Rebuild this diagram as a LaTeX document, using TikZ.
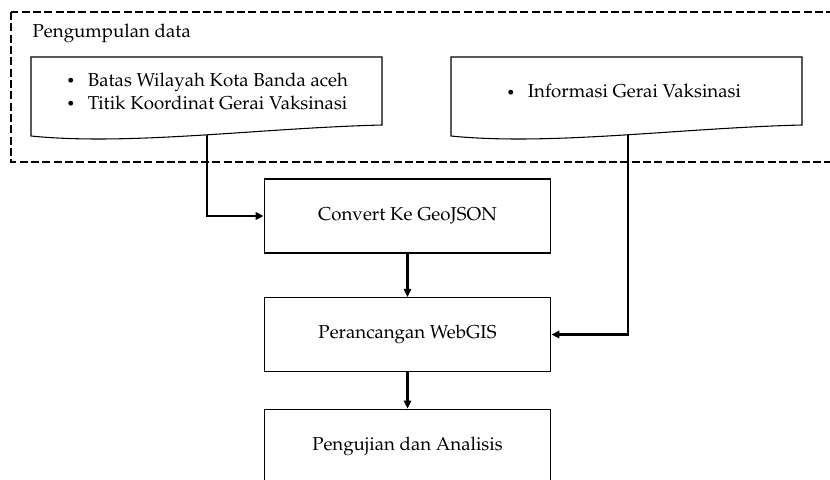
\documentclass[tikz,border=0pt]{standalone}
\usepackage[T1]{fontenc}
\usepackage{mathpazo}
\usepackage{graphicx}
\usetikzlibrary{arrows.meta}

\newcommand{\smbullet}{\raisebox{0.3pt}{\scalebox{0.75}{\textbullet}}\hspace{9.5pt}}

\tikzset{
	stepbox/.style={draw, line width=0.8pt, minimum width=215pt, minimum height=55.5pt, font=\fontsize{14}{17}\selectfont},
	docshape/.style={draw, line width=0.8pt},
	arr/.style={line width=1.6pt, -{Triangle[length=6pt, width=5.5pt]}}
}

\begin{document}
\begin{tikzpicture}[x=0.75pt, y=-0.75pt]
		\useasboundingbox (0, 0) rectangle (830, 479);
		\clip (0, 0) rectangle (830, 479);

		% Dashed group
		\draw[dashed, line width=1.5pt, dash pattern=on 6pt off 2.5pt] (11, 12) rectangle (845, 162);
		\node[anchor=west, font=\fontsize{14}{17}\selectfont] (judul) at (28, 33) {Pengumpulan data};

		% Document shapes
		\draw[docshape] (31, 136) -- (31, 57) -- (382, 57) -- (382, 125)
			.. controls (260, 128) and (130, 146) .. (31, 136) -- cycle;
		\draw[docshape] (451, 136) -- (451, 57) -- (802, 57) -- (802, 125)
			.. controls (680, 128) and (550, 146) .. (451, 136) -- cycle;
		\coordinate (batasout) at (207, 135);
		\coordinate (infoout) at (628, 135);

		\node[anchor=west, align=left, font=\fontsize{14}{17.3}\selectfont] (batas) at (62, 91)
			{\smbullet Batas Wilayah Kota Banda aceh\\ \smbullet Titik Koordinat Gerai Vaksinasi};
		\node[anchor=west, font=\fontsize{14}{17}\selectfont] (info) at (502, 91)
			{\smbullet Informasi Gerai Vaksinasi};

		% Process boxes
		\node[stepbox] (convert) at (407.5, 216) {Convert Ke GeoJSON};
		\node[stepbox] (webgis) at (407.5, 334.5) {Perancangan WebGIS};
		\node[stepbox, minimum height=56pt] (uji) at (407.5, 446.5) {Pengujian dan Analisis};

		% Arrows
		\draw[arr] (batasout) |- (convert);
		\draw[arr] (convert) -- (webgis);
		\draw[arr] (infoout) |- (webgis);
		\draw[arr] (webgis) -- (uji);
	\end{tikzpicture}
\end{document}
